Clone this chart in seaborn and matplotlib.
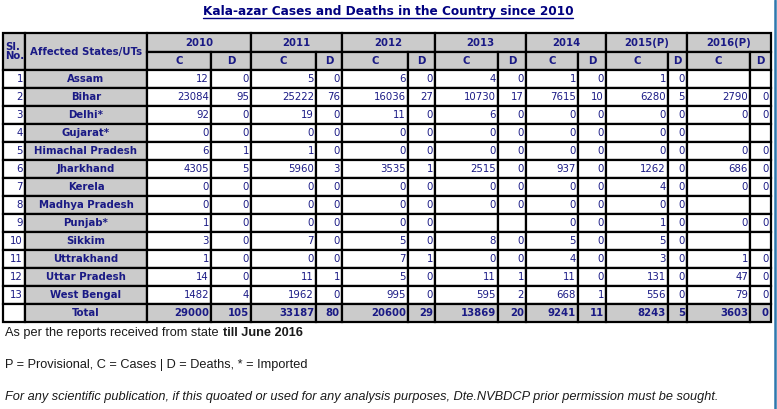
import numpy as np
import pandas as pd
import matplotlib
matplotlib.use("Agg")
import matplotlib.pyplot as plt
import seaborn as sns

# ---- data ----
states = ["Assam", "Bihar", "Delhi*", "Gujarat*", "Himachal Pradesh", "Jharkhand",
          "Kerela", "Madhya Pradesh", "Punjab*", "Sikkim", "Uttrakhand",
          "Uttar Pradesh", "West Bengal"]
years = ["2010", "2011", "2012", "2013", "2014", "2015(P)", "2016(P)"]

N = None
cases_2010 = [12, 23084, 92, 0, 6, 4305, 0, 0, 1, 3, 1, 14, 1482]
deaths_2010 = [0, 95, 0, 0, 1, 5, 0, 0, 0, 0, 0, 0, 4]
cases_2011 = [5, 25222, 19, 0, 1, 5960, 0, 0, 0, 7, 0, 11, 1962]
deaths_2011 = [0, 76, 0, 0, 0, 3, 0, 0, 0, 0, 0, 1, 0]
cases_2012 = [6, 16036, 11, 0, 0, 3535, 0, 0, 0, 5, 7, 5, 995]
deaths_2012 = [0, 27, 0, 0, 0, 1, 0, 0, 0, 0, 1, 0, 0]
cases_2013 = [4, 10730, 6, 0, 0, 2515, 0, 0, N, 8, 0, 11, 595]
deaths_2013 = [0, 17, 0, 0, 0, 0, 0, 0, N, 0, 0, 1, 2]
cases_2014 = [1, 7615, 0, 0, 0, 937, 0, 0, 0, 5, 4, 11, 668]
deaths_2014 = [0, 10, 0, 0, 0, 0, 0, 0, 0, 0, 0, 0, 1]
cases_2015 = [1, 6280, 0, 0, 0, 1262, 4, 0, 1, 5, 3, 131, 556]
deaths_2015 = [0, 5, 0, 0, 0, 0, 0, 0, 0, 0, 0, 0, 0]
cases_2016 = [N, 2790, 0, N, 0, 686, 0, N, 0, N, 1, 47, 79]
deaths_2016 = [N, 0, 0, N, 0, 0, 0, N, 0, N, 0, 0, 0]

total_cases = [29000, 33187, 20600, 13869, 9241, 8243, 3603]
total_deaths = [105, 80, 29, 20, 11, 5, 0]

cols = [cases_2010, deaths_2010, cases_2011, deaths_2011, cases_2012, deaths_2012,
        cases_2013, deaths_2013, cases_2014, deaths_2014, cases_2015, deaths_2015,
        cases_2016, deaths_2016]
totals = [v for pair in zip(total_cases, total_deaths) for v in pair]

df = pd.DataFrame(dict(zip(range(len(cols)), cols)))
df.index = states

# ---- layout (pixels) ----
edges = [3, 25, 147, 211, 251, 316, 342, 408, 435, 498, 526, 578, 606, 668, 687, 750, 771]
hdr = [33, 52, 70]
row_h = 18

NAVY = "#1a1a85"
GRAY = "#cbcbcb"
LW = 1.6
FS_HEAD = 7.3
FS_NUM = 7.3

sns.set_theme(style="white")
plt.rcParams['font.family'] = ['DejaVu Sans']

fig = plt.figure(figsize=(7.77, 4.09), dpi=100)
ax = fig.add_axes([0, 0, 1, 1])
ax.set_xlim(0, 777)
ax.set_ylim(409, 0)
ax.axis("off")


def cell(x0, x1, y0, y1, fill="white"):
    ax.add_patch(plt.Rectangle((x0, y0), x1 - x0, y1 - y0, facecolor=fill,
                               edgecolor="black", linewidth=LW, zorder=2))


# header
cell(edges[0], edges[1], hdr[0], hdr[2], GRAY)
ax.text(edges[0] + 2, (hdr[0] + hdr[2]) / 2, "Sl.\nNo.", ha="left", va="center",
        fontsize=FS_HEAD, fontweight="bold", color=NAVY, linespacing=0.95, zorder=3)
cell(edges[1], edges[2], hdr[0], hdr[2], GRAY)
ax.text((edges[1] + edges[2]) / 2, (hdr[0] + hdr[2]) / 2, "Affected States/UTs",
        ha="center", va="center", fontsize=FS_HEAD, fontweight="bold", color=NAVY, zorder=3)
for i, yr in enumerate(years):
    x0, x1, x2 = edges[2 + 2 * i], edges[3 + 2 * i], edges[4 + 2 * i]
    cell(x0, x2, hdr[0], hdr[1], GRAY)
    ax.text((x0 + x2) / 2, (hdr[0] + hdr[1]) / 2, yr, ha="center", va="center",
            fontsize=FS_HEAD, fontweight="bold", color=NAVY, zorder=3)
    for a, b, lab in [(x0, x1, "C"), (x1, x2, "D")]:
        cell(a, b, hdr[1], hdr[2], GRAY)
        ax.text((a + b) / 2, (hdr[1] + hdr[2]) / 2, lab, ha="center", va="center",
                fontsize=FS_HEAD, fontweight="bold", color=NAVY, zorder=3)

# body rows
for r, st in enumerate(states):
    y0 = hdr[2] + r * row_h
    y1 = y0 + row_h
    yc = (y0 + y1) / 2
    cell(edges[0], edges[1], y0, y1)
    ax.text(edges[1] - 2, yc, str(r + 1), ha="right", va="center", fontsize=FS_NUM,
            color=NAVY, zorder=3)
    cell(edges[1], edges[2], y0, y1, GRAY)
    ax.text((edges[1] + edges[2]) / 2, yc, st, ha="center", va="center", fontsize=FS_HEAD,
            fontweight="bold", color=NAVY, zorder=3)
    for c in range(len(cols)):
        a, b = edges[2 + c], edges[3 + c]
        cell(a, b, y0, y1)
        v = df.iloc[r, c]
        if pd.notna(v):
            ax.text(b - 2, yc, str(int(v)), ha="right", va="center", fontsize=FS_NUM,
                    color=NAVY, zorder=3)

# total row
y0 = hdr[2] + len(states) * row_h
y1 = y0 + row_h
yc = (y0 + y1) / 2
cell(edges[0], edges[1], y0, y1)
cell(edges[1], edges[2], y0, y1, GRAY)
ax.text((edges[1] + edges[2]) / 2, yc, "Total", ha="center", va="center", fontsize=FS_HEAD,
        fontweight="bold", color=NAVY, zorder=3)
for c, v in enumerate(totals):
    a, b = edges[2 + c], edges[3 + c]
    cell(a, b, y0, y1, GRAY)
    ax.text(b - 2, yc, str(v), ha="right", va="center", fontsize=FS_HEAD,
            fontweight="bold", color=NAVY, zorder=3)

# title with underline
t = ax.text(388, 12, "Kala-azar Cases and Deaths in the Country since 2010",
            ha="center", va="center", fontsize=8.7, fontweight="bold", color="#000080")

# notes
FS_NOTE = 9.2
n1 = ax.text(5, 333, "As per the reports received from state", ha="left", va="center",
             fontsize=FS_NOTE, color="#1a1a1a", family="Liberation Sans")
fig.canvas.draw()
inv = ax.transData.inverted()
bb = t.get_window_extent().transformed(inv)
ax.plot([bb.x0, bb.x1], [max(bb.y0, bb.y1) - 0.5] * 2, color="#000080", lw=1.0)
nb = n1.get_window_extent().transformed(inv)
ax.text(nb.x1 + 4, 333, "till June 2016", ha="left", va="center", fontsize=FS_NOTE,
        fontweight="bold", color="#1a1a1a", family="Liberation Sans")
ax.text(5, 365, "P = Provisional, C = Cases | D = Deaths, * = Imported", ha="left",
        va="center", fontsize=FS_NOTE, color="#1a1a1a", family="Liberation Sans")
ax.text(5, 397, "For any scientific publication, if this quoated or used for any analysis "
        "purposes, Dte.NVBDCP prior permission must be sought.", ha="left", va="center",
        fontsize=FS_NOTE, style="italic", color="#1a1a1a", family="Liberation Sans")

# window frame on the right
ax.plot([775, 775], [0, 409], color="#2f78ad", lw=1.8)

fig.savefig("out.png", dpi=100)
